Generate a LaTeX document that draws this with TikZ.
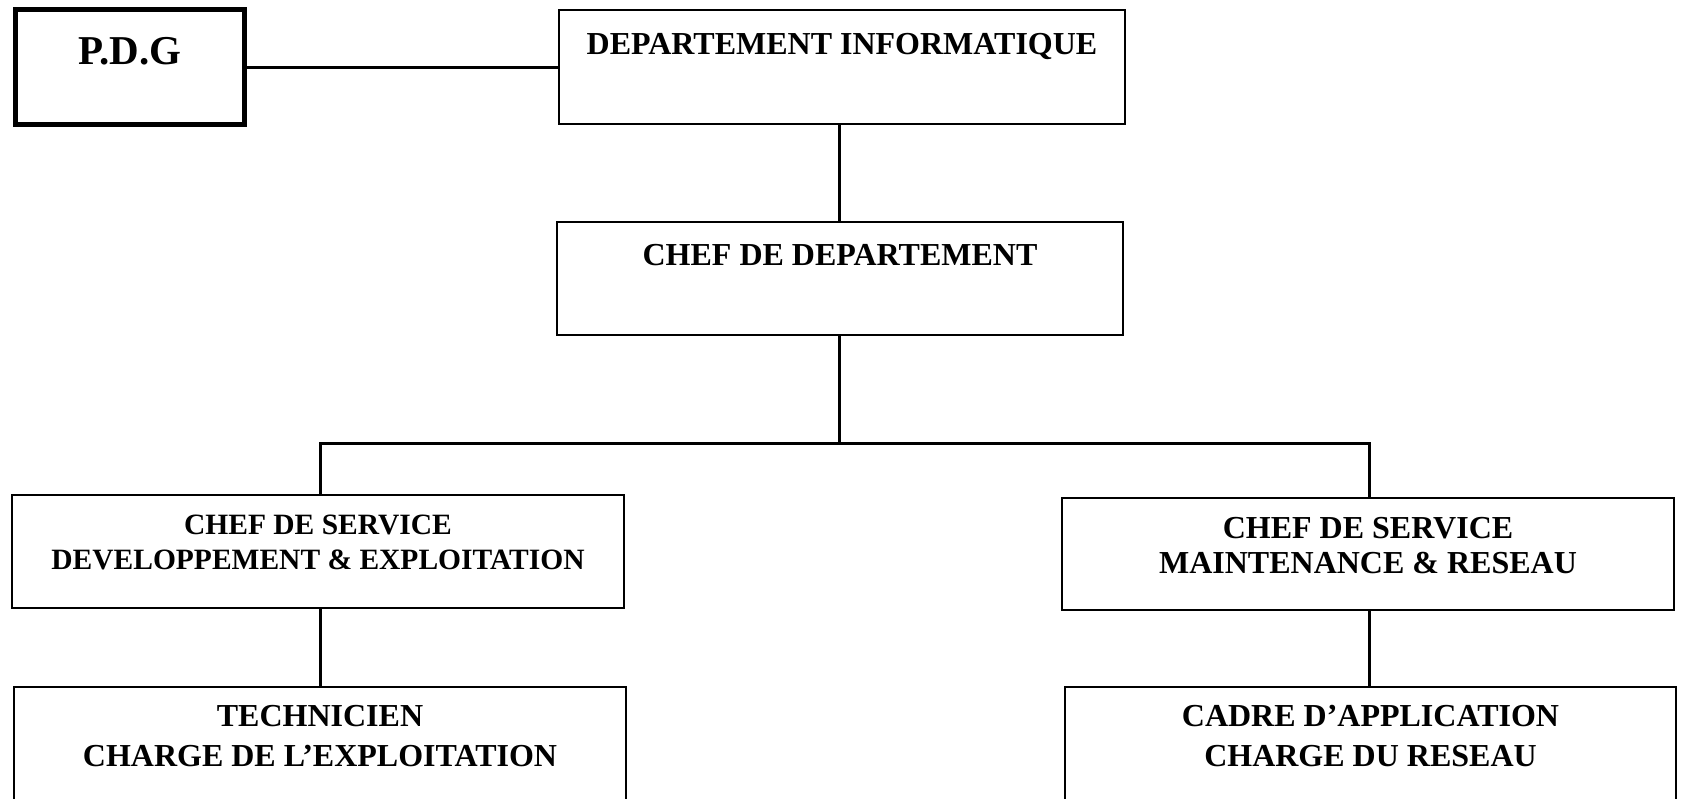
\documentclass[tikz,border=0pt]{standalone}
\usepackage{fontspec}
\setmainfont{Liberation Serif}
\begin{document}
\begin{tikzpicture}[x=1pt,y=-1pt,
  orgbox/.style={draw=black,line width=2pt,rectangle,inner sep=0pt,fill=white},
  bossbox/.style={orgbox,line width=5pt},
  orgtext/.style={anchor=base,align=center,inner sep=0pt,
    font=\fontsize{32}{35}\selectfont\bfseries},
  smalltext/.style={orgtext,font=\fontsize{29.5}{34.5}\selectfont\bfseries},
  linktext/.style={orgtext,font=\fontsize{32}{40}\selectfont\bfseries},
  link/.style={draw=black,line width=3pt}]
\useasboundingbox (0,0) rectangle (1685,799);
\clip (0,0) rectangle (1685,799);
\fill[white] (0,0) rectangle (1685,799);

% boxes
\node[bossbox,minimum width=229pt,minimum height=115pt] (pdg) at (129.5,67.5) {};
\node[orgbox,minimum width=566pt,minimum height=114pt] (dinfo) at (842,67) {};
\node[orgbox,minimum width=566pt,minimum height=113pt] (chef) at (840,278.5) {};
\node[orgbox,minimum width=612pt,minimum height=113pt] (sdev) at (318,551.5) {};
\node[orgbox,minimum width=612pt,minimum height=112pt] (smr) at (1368,554) {};
\node[orgbox,minimum width=612pt,minimum height=160pt] (tech) at (320,767) {};
\node[orgbox,minimum width=611pt,minimum height=160pt] (cadre) at (1370.5,767) {};

% labels (two-line labels are placed by the baseline of their last line)
\node[orgtext,font=\fontsize{41}{45}\selectfont\bfseries] (tpdg) at (130,65) {P.D.G};
\node[orgtext] (tdinfo) at (842,55) {DEPARTEMENT INFORMATIQUE};
\node[orgtext] (tchef) at (840,266) {CHEF DE DEPARTEMENT};
\node[smalltext] (tsdev) at (318,569) {CHEF DE SERVICE\\DEVELOPPEMENT \& EXPLOITATION};
\node[orgtext] (tsmr) at (1368,573) {CHEF DE SERVICE\\MAINTENANCE \& RESEAU};
\node[linktext] (ttech) at (320,766) {TECHNICIEN\\CHARGE DE L’EXPLOITATION};
\node[linktext] (tcadre) at (1370.5,766) {CADRE D’APPLICATION\\CHARGE DU RESEAU};

% connectors
\coordinate (busL) at (320,443);
\coordinate (busR) at (1369,443);
\draw[link] (pdg.east) -- (pdg.east -| dinfo.west);
\draw[link] (839,0 |- dinfo.south) -- (839,0 |- chef.north);
\draw[link] (839,0 |- chef.south) -- (839,443);
\draw[link] (sdev.north -| busL) -- (busL) -- (busR) -- (smr.north -| busR);
\draw[link] (sdev.south -| busL) -- (tech.north -| busL);
\draw[link] (smr.south -| busR) -- (cadre.north -| busR);
\end{tikzpicture}
\end{document}
